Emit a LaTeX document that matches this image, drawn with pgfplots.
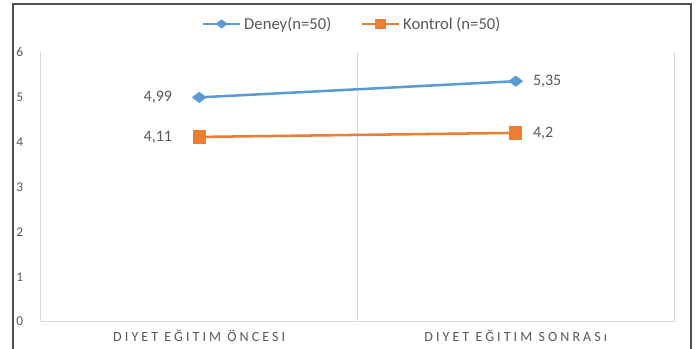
\documentclass[border=0pt]{standalone}
\usepackage{fontspec}
\setmainfont{Carlito}
\newfontfamily\catfont[LetterSpace=22]{Carlito}
\usepackage{pgfplots}
\usepackage{pgfplotstable}
\pgfplotsset{compat=1.18}

\definecolor{deneyblue}{HTML}{5B9BD5}
\definecolor{kontrolorange}{HTML}{ED7D31}
\definecolor{labelgray}{HTML}{595959}
\definecolor{gridgray}{HTML}{D9D9D9}
\definecolor{framegray}{HTML}{505050}

% mean scores before (0) and after (1) the diet education
\pgfplotstableread{
x  y
0  4.99
1  5.35
}\deneydata
\pgfplotstableread{
x  y
0  4.11
1  4.20
}\kontroldata

\begin{document}
\begin{tikzpicture}
% page: 696 x 349 px at 0.75pt per px; plot area corner at (41px, 27.3px)
\useasboundingbox (-30.75pt,-20.475pt) rectangle ++(522pt,261.75pt);
\draw[framegray, line width=1.3pt]
  (-21.225pt,-20.475pt) -- (-21.225pt,238.275pt) -- (487.725pt,238.275pt) -- (487.725pt,-20.475pt);
\begin{axis}[
  scale only axis, width=474.75pt, height=202.3pt,
  xmin=-0.5, xmax=1.5, ymin=0, ymax=6,
  xtick={0,1},
  xticklabels={DIYET EĞITIM ÖNCESI, DIYET EĞITIM SONRASı},
  ytick={0,1,2,3,4,5,6},
  minor xtick={-0.5,0.5,1.5},
  xminorgrids=true,
  minor grid style={gridgray, line width=0.75pt},
  extra y ticks={0},
  extra y tick labels={},
  extra y tick style={grid=major, major grid style={gridgray, line width=0.75pt}},
  axis line style={draw=none},
  major tick length=0pt, minor tick length=0pt,
  /pgf/number format/assume math mode=true,
  /pgf/number format/use comma,
  tick label style={text=labelgray},
  yticklabel style={font=\fontsize{10}{12}\selectfont, anchor=west, inner sep=0pt, xshift=-18.75pt},
  xticklabel style={font=\catfont\fontsize{10.5}{12}\selectfont, anchor=base, inner sep=0pt, yshift=-15.2pt},
  legend style={at={(0.492,1.104)}, anchor=center, draw=none, fill=none,
    font=\fontsize{12.5}{14}\selectfont, text=labelgray,
    legend columns=2, inner sep=0pt,
    /tikz/every even column/.append style={column sep=20pt}},
  legend cell align=left,
  legend image code/.code={%
    \draw[mark repeat=2, mark phase=2, #1, mark size=3pt]
      plot coordinates {(0pt,0pt) (14pt,0pt) (28pt,0pt)};},
  point meta=y,
  % value labels: left of the first mark, right of the second
  visualization depends on={\coordindex \as \idx},
  nodes near coords={\pgfmathprintnumber{\pgfplotspointmeta}},
  nodes near coords style={font=\fontsize{12}{14}\selectfont, text=labelgray,
    inner ysep=0pt, inner xsep=12pt,
    anchor={\ifdim\idx pt<0.5pt east\else west\fi},
    xshift={-7.5*(1-\idx)}},
  clip=false,
]
\addplot[deneyblue, line width=1.9pt, mark=diamond*, mark size=4pt,
  mark options={rotate=90}] table[x=x, y=y] {\deneydata};
\addlegendentry{Deney(n=50)}
\addplot[kontrolorange, line width=1.9pt, mark=square*, mark size=4.1pt]
  table[x=x, y=y] {\kontroldata};
\addlegendentry{Kontrol (n=50)}
\end{axis}
\end{tikzpicture}
\end{document}
